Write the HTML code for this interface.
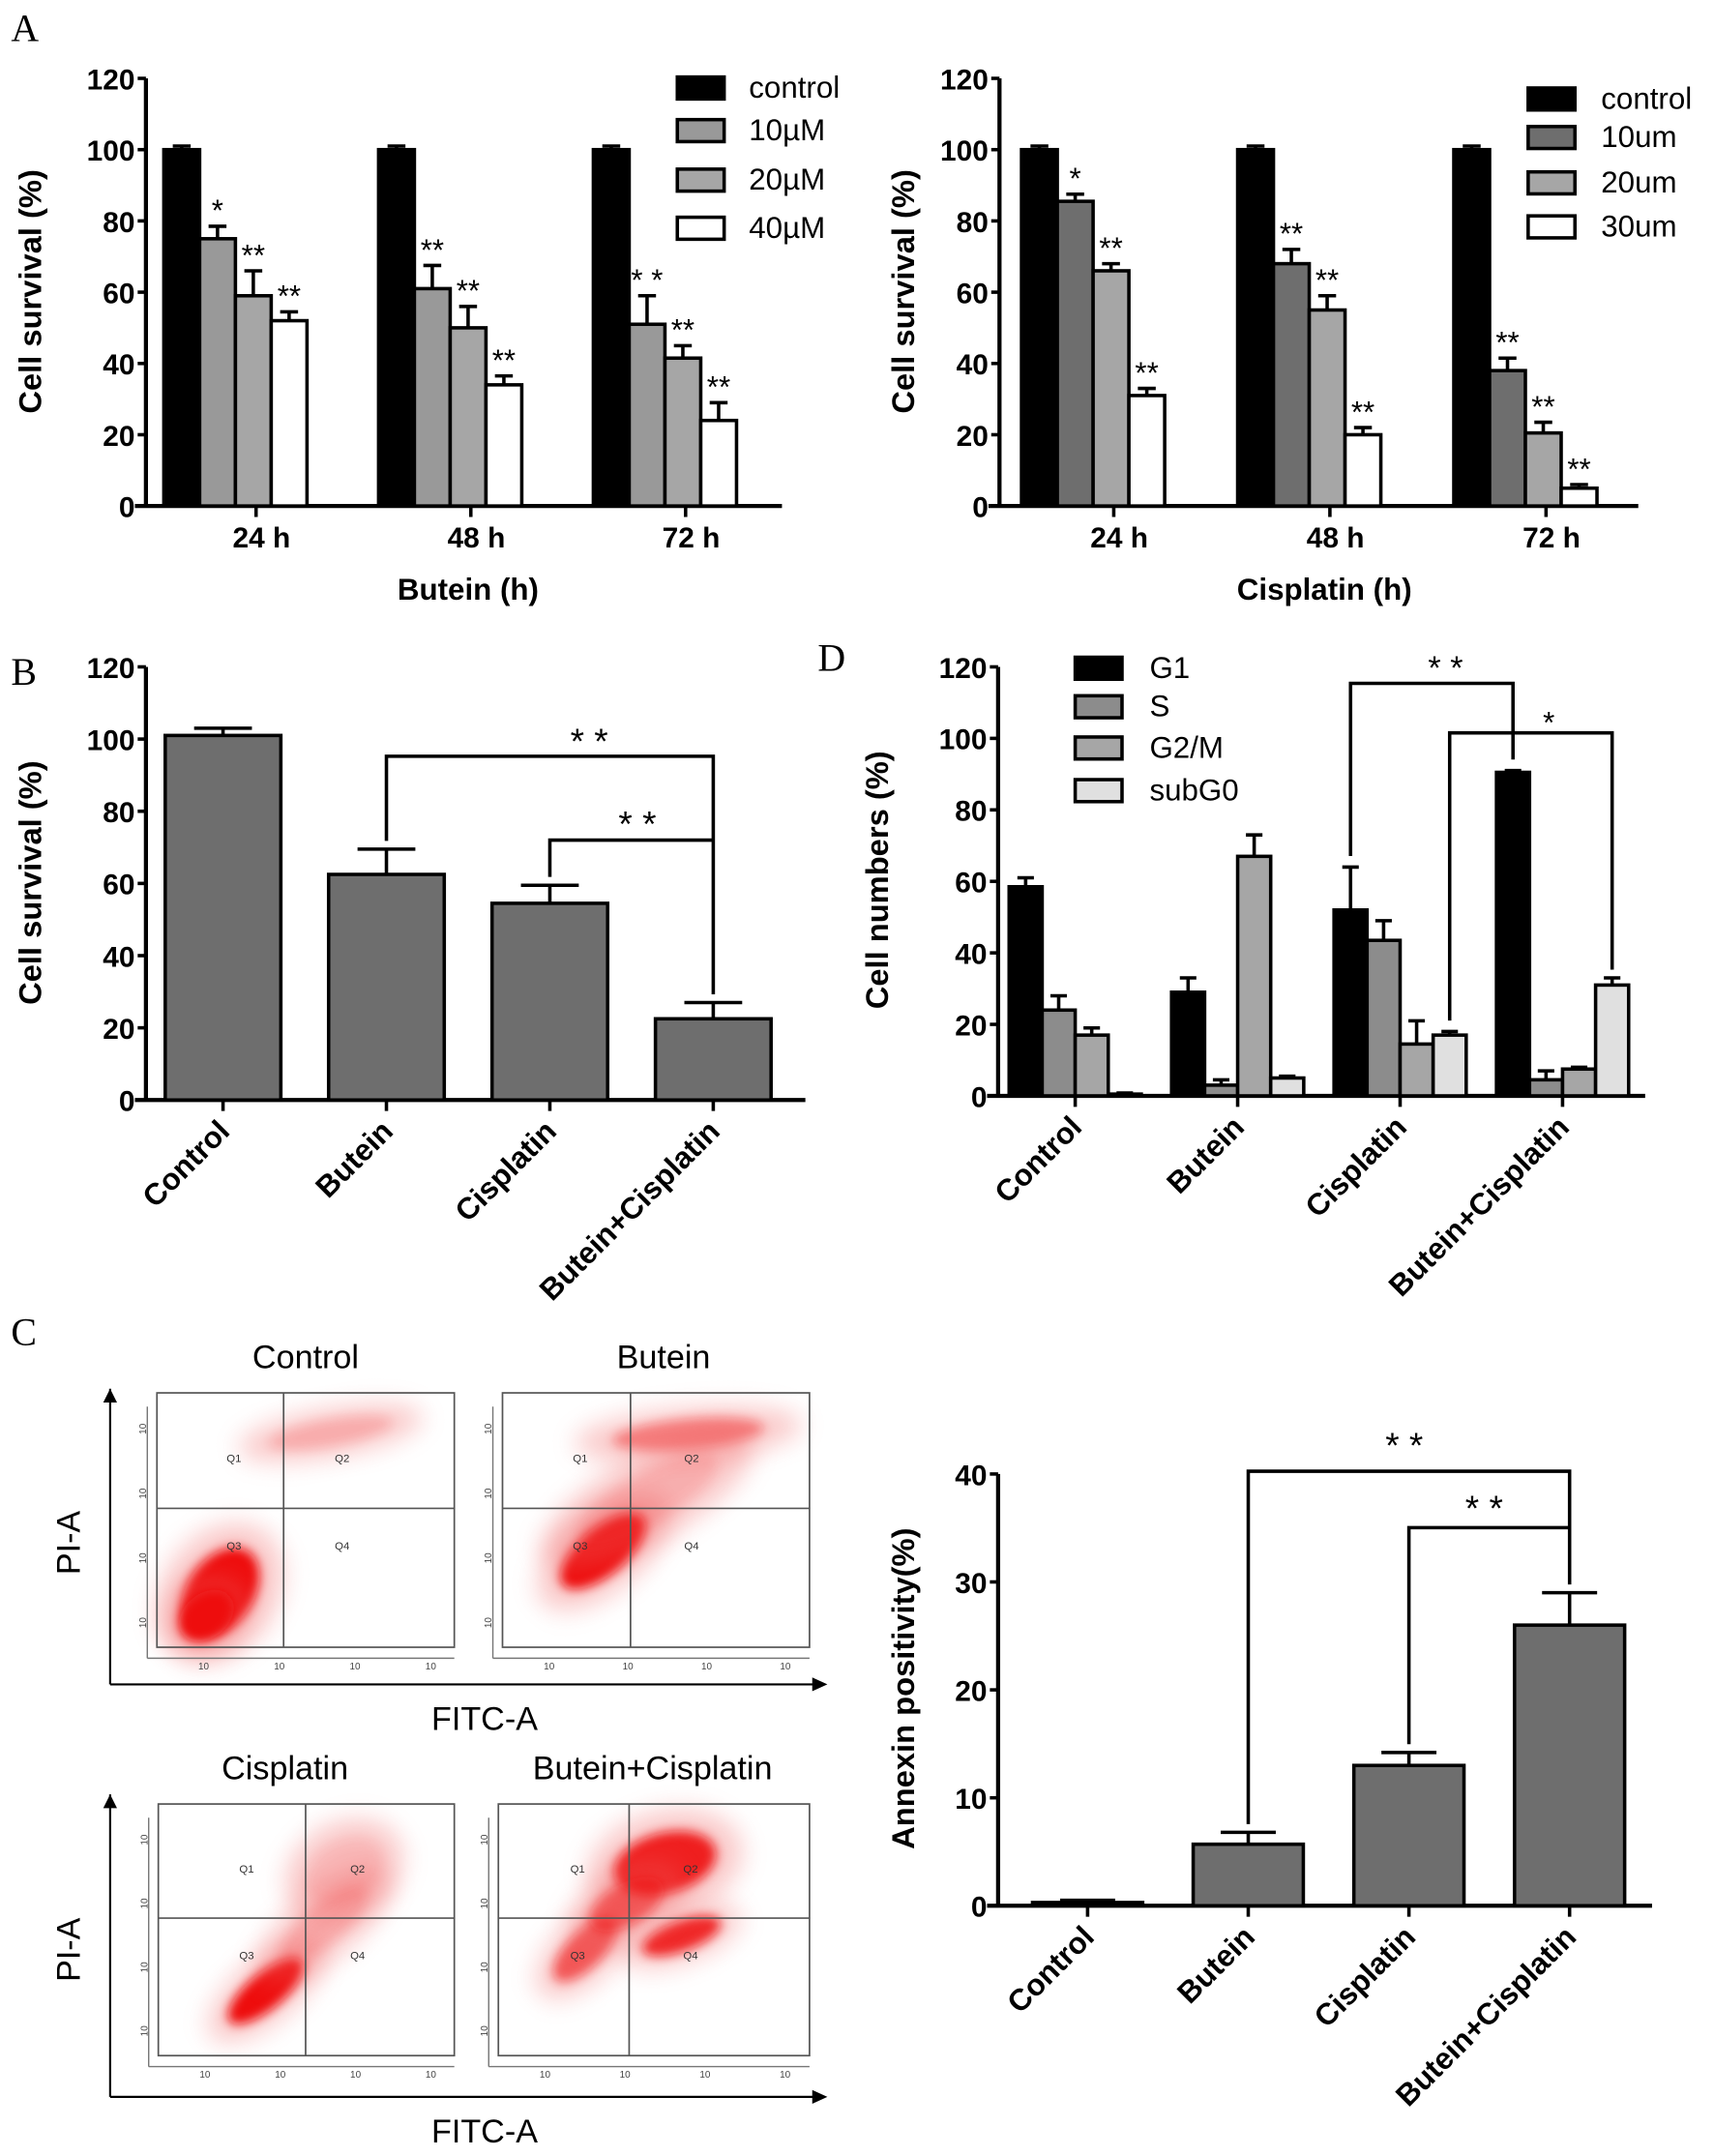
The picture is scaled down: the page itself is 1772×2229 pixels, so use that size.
<!DOCTYPE html>
<html><head><meta charset="utf-8"><style>
html,body{margin:0;padding:0;background:#fff}
svg{display:block}
text{font-family:"Liberation Sans",Arial,sans-serif}
.b{font-weight:bold}
.serif{font-family:"Liberation Serif",serif}
</style></head><body>
<svg id="fig" xmlns="http://www.w3.org/2000/svg" width="1772" height="2229" viewBox="0 0 1245 1568" preserveAspectRatio="none">
<defs>
<filter id="blur2" x="-50%" y="-50%" width="200%" height="200%"><feGaussianBlur stdDeviation="4"/></filter>
<filter id="blur6" x="-50%" y="-50%" width="200%" height="200%"><feGaussianBlur stdDeviation="9"/></filter>
</defs>
<g id="root"></g>
</svg>
<script>
// ---------- Panel A (Butein) data ----------
const A1_groups = ['24 h','48 h','72 h'];
const A1_series = ['control','10µM','20µM','40µM'];
const A1_values = [[100,100,100],[75,61,51],[59,50,41.5],[52,34,24]];
const A1_errors = [[1,1,1],[3.5,6.5,8],[7,6,3.5],[2.5,2.5,5]];
const A1_stars = [['','',''],['*','**','* *'],['**','**','**'],['**','**','**']];
// ---------- Panel A (Cisplatin) data ----------
const A2_groups = ['24 h','48 h','72 h'];
const A2_series = ['control','10um','20um','30um'];
const A2_values = [[100,100,100],[85.5,68,38],[66,55,20.5],[31,20,5]];
const A2_errors = [[1,1,1],[2,4,3.5],[2,4,3],[2,2,1]];
const A2_stars = [['','',''],['*','**','**'],['**','**','**'],['**','**','**']];
// ---------- Panel B ----------
const B_cats = ['Control','Butein','Cisplatin','Butein+Cisplatin'];
const B_values = [101,62.5,54.5,22.5];
const B_errors = [2,7,5,4.5];
// ---------- Panel D ----------
const D_cats = ['Control','Butein','Cisplatin','Butein+Cisplatin'];
const D_series = ['G1','S','G2/M','subG0'];
const D_values = [[58.5,29,52,90.5],[24,3,43.5,4.5],[17,67,14.5,7.5],[0.5,5,17,31]];
const D_errors = [[2.5,4,12,0.5],[4,1.5,5.5,2.5],[2,6,6.5,0.5],[0.3,0.5,1,2]];
// ---------- Panel C annexin ----------
const E_cats = ['Control','Butein','Cisplatin','Butein+Cisplatin'];
const E_values = [0.3,5.7,13,26];
const E_errors = [0.2,1.1,1.2,3];
const yTicks120 = [0,20,40,60,80,100,120];
const yTicks40 = [0,10,20,30,40];

const NS='http://www.w3.org/2000/svg';
const root=document.getElementById('root');
function mk(tag,attrs,parent){const e=document.createElementNS(NS,tag);for(const k in attrs)e.setAttribute(k,attrs[k]);(parent||root).appendChild(e);return e;}
function txt(s,attrs,parent){const t=mk('text',attrs,parent);t.textContent=s;return t;}

function yAxis(g,ax,y0,yTop,ticks,max,xEnd,prefix){
  const sc=v=>y0-v*(y0-yTop)/max;
  let l=mk('line',{x1:ax,y1:y0,x2:ax,y2:yTop,stroke:'#000','stroke-width':3},g);
  
  
  let xl=mk('line',{x1:ax-8,y1:y0,x2:xEnd,y2:y0,stroke:'#000','stroke-width':3},g);
  
  
  ticks.forEach(t=>{
    mk('line',{x1:ax-6,y1:sc(t),x2:ax,y2:sc(t),stroke:'#000','stroke-width':2.5},g);
    const tl=txt(String(t),{x:ax-8,y:sc(t)+8,'text-anchor':'end','font-size':21,class:'b'},g);
    
    
  });
  return sc;
}
function barErr(g,x,w,v,e,sc,fill,name){
  const r=mk('rect',{x:x,y:sc(v),width:w,height:sc(0)-sc(v),fill:fill,stroke:'#000','stroke-width':2.5},g);
  
  
  const cx=x+w/2;
  mk('line',{x1:cx,y1:sc(v),x2:cx,y2:sc(v+e),stroke:'#000','stroke-width':2.5},g);
  mk('line',{x1:cx-w/4,y1:sc(v+e),x2:cx+w/4,y2:sc(v+e),stroke:'#000','stroke-width':2.5},g);
}
function ylabel(g,s,x,y,name){
  const t=txt(s,{x:x,y:y,transform:`rotate(-90 ${x} ${y})`,'text-anchor':'middle','font-size':23,class:'b'},g);
  
  
}
function rotLabel(g,s,x,y,name){
  const t=txt(s,{x:x,y:y,transform:`rotate(-45 ${x} ${y})`,'text-anchor':'end','font-size':22,class:'b'},g);
  
  
}
function legend(g,items,colors,bx,ys,tx,fs,prefix){
  items.forEach((s,i)=>{
    const r=mk('rect',{x:bx,y:ys[i],width:34,height:16,fill:colors[i],stroke:'#000','stroke-width':2.5},g);
    
    
    const t=txt(s,{x:tx,y:ys[i]+15,'font-size':fs},g);
    
    
  });
}
function panelLetter(s,x,y){
  const t=txt(s,{x:x,y:y,'font-size':28,class:'serif'});
  
  
}

function grouped(cfg){
  const g=mk('g',{});
  
  
  const sc=yAxis(g,cfg.ax,cfg.y0,cfg.yTop,yTicks120,120,cfg.xEnd,cfg.prefix);
  cfg.groups.forEach((gn,gi)=>{
    const gs=cfg.first+gi*cfg.spacing;
    cfg.values.forEach((ser,si)=>{
      const x=gs+si*cfg.bw;
      barErr(g,x,cfg.bw,ser[gi],cfg.errors[si][gi],sc,cfg.colors[si],cfg.prefix+'-bar');
      if(cfg.stars&&cfg.stars[si][gi]){
        const st=txt(cfg.stars[si][gi],{x:x+cfg.bw/2,y:sc(ser[gi]+cfg.errors[si][gi])-4,'text-anchor':'middle','font-size':22},g);
        
        
      }
    });
    const tx=gs+cfg.tickOff;
    mk('line',{x1:tx,y1:cfg.y0,x2:tx,y2:cfg.y0+8,stroke:'#000','stroke-width':2.5},g);
    if(cfg.rot){rotLabel(g,gn,tx+6,cfg.y0+24,cfg.prefix+'-x-label');}
    else{const t=txt(gn,{x:tx+4,y:cfg.y0+30,'text-anchor':'middle','font-size':21,class:'b'},g);
      
      }
  });
  return {g,sc};
}

panelLetter('A',8,30);
const colA1=['#000','#999','#a6a6a6','#fff'];
let a1=grouped({prefix:'butein',ax:106,y0:368,yTop:57,xEnd:568,first:119,spacing:156,bw:26,tickOff:67,
  groups:A1_groups,values:A1_values,errors:A1_errors,colors:colA1,stars:A1_stars});
legend(a1.g,A1_series,colA1,492,[56,87,123,158],544,22,'butein');
ylabel(a1.g,'Cell survival (%)',30,212,'butein-y-title');
let t1=txt('Butein (h)',{x:340,y:436,'text-anchor':'middle','font-size':22,class:'b'},a1.g);



const colA2=['#000','#6e6e6e','#a6a6a6','#fff'];
let a2=grouped({prefix:'cisplatin',ax:726,y0:368,yTop:57,xEnd:1190,first:742,spacing:157,bw:26,tickOff:67,
  groups:A2_groups,values:A2_values,errors:A2_errors,colors:colA2,stars:A2_stars});
legend(a2.g,A2_series,colA2,1110,[64,92,125,157],1163,22,'cisplatin');
ylabel(a2.g,'Cell survival (%)',664,212,'cisplatin-y-title');
let t2=txt('Cisplatin (h)',{x:962,y:436,'text-anchor':'middle','font-size':22,class:'b'},a2.g);



// ---------- B ----------
panelLetter('B',8,498);
(function(){
  const g=mk('g',{});
  
  
  const sc=yAxis(g,106,800,485,yTicks120,120,585,'combo');
  const start=162,sp=118.7,w=84;
  B_cats.forEach((c,i)=>{
    const cx=start+i*sp;
    barErr(g,cx-w/2,w,B_values[i],B_errors[i],sc,'#6e6e6e','combo-bar');
    mk('line',{x1:cx,y1:800,x2:cx,y2:808,stroke:'#000','stroke-width':2.5},g);
    rotLabel(g,c,cx+6,824,'combo-x-label');
  });
  const c1=start+sp,c2=start+2*sp,c3=start+3*sp;
  const p=mk('path',{d:`M${c1},${sc(B_values[1]+B_errors[1])-6}V550H${c3}V${sc(B_values[3]+B_errors[3])-6}M${c2},${sc(B_values[2]+B_errors[2])-6}V611H${c3}`,fill:'none',stroke:'#000','stroke-width':2.5},g);
  
  
  let s1=txt('* *',{x:428,y:548,'text-anchor':'middle','font-size':26},g);
  
  
  let s2=txt('* *',{x:463,y:608,'text-anchor':'middle','font-size':26},g);
  
  
  ylabel(g,'Cell survival (%)',30,642,'combo-y-title');
})();

// ---------- D ----------
panelLetter('D',594,488);
(function(){
  const colD=['#000','#8c8c8c','#a6a6a6','#e0e0e0'];
  const r=grouped({prefix:'cellcycle',ax:725,y0:797,yTop:485,xEnd:1195,first:733,spacing:118,bw:24,tickOff:48,rot:true,
    groups:D_cats,values:D_values,errors:D_errors,colors:colD,stars:null});
  const g=r.g,sc=r.sc;
  legend(g,D_series,colD,781,[478,506,536,567],835,22,'cellcycle');
  const xG1c=733+2*118+12, xG1bc=733+3*118+12, xSubc=733+2*118+84, xSubbc=733+3*118+84;
  const p=mk('path',{d:`M${xG1c},${sc(D_values[0][2]+D_errors[0][2])-8}V497H${xG1bc}V${sc(D_values[0][3]+D_errors[0][3])-8}M${xSubc},${sc(D_values[3][2]+D_errors[3][2])-8}V533H${xSubbc}V${sc(D_values[3][3]+D_errors[3][3])-6}`,fill:'none',stroke:'#000','stroke-width':2.5},g);
  
  
  let s1=txt('* *',{x:1050,y:494,'text-anchor':'middle','font-size':24},g);
  
  
  let s2=txt('*',{x:1125,y:533,'text-anchor':'middle','font-size':22},g);
  
  
  ylabel(g,'Cell numbers (%)',645,640,'cellcycle-y-title');
})();

// ---------- C flow plots ----------
panelLetter('C',8,978);
function flowPlot(title,tx,ty,bx,by,bw,bh,cx,cy,clouds,name){
  const g=mk('g',{});
  
  
  const t=txt(title,{x:tx,y:ty,'text-anchor':'middle','font-size':24},g);
  
  
  clouds.forEach(c=>{
    mk('ellipse',{cx:c[0],cy:c[1],rx:c[2]*1.5,ry:c[3]*1.7,fill:'#f06060',opacity:0.35,transform:`rotate(${c[4]} ${c[0]} ${c[1]})`,filter:'url(#blur6)'},g);
    mk('ellipse',{cx:c[0],cy:c[1],rx:c[2],ry:c[3],fill:'#ee1010',opacity:c[5],transform:`rotate(${c[4]} ${c[0]} ${c[1]})`,filter:'url(#blur2)'},g);
  });
  mk('rect',{x:bx,y:by,width:bw,height:bh,fill:'none',stroke:'#555','stroke-width':1.2},g);
  mk('line',{x1:cx,y1:by,x2:cx,y2:by+bh,stroke:'#555','stroke-width':1.2},g);
  mk('line',{x1:bx,y1:cy,x2:bx+bw,y2:cy,stroke:'#555','stroke-width':1.2},g);
  for(let i=0;i<4;i++){
    txt('10',{x:bx+30+i*(bw-40)/3.2,y:by+bh+16,'font-size':7,fill:'#444'},g);
    txt('10',{x:bx-14,y:by+bh-20-i*(bh-30)/3.3,'font-size':7,fill:'#444',transform:`rotate(-90 ${bx-8} ${by+bh-20-i*(bh-30)/3.3})`},g);
  }
  [['Q1',bx+(cx-bx)*0.55,by+(cy-by)*0.6],['Q2',cx+(bx+bw-cx)*0.3,by+(cy-by)*0.6],['Q3',bx+(cx-bx)*0.55,cy+30],['Q4',cx+(bx+bw-cx)*0.3,cy+30]].forEach(q=>{
    txt(q[0],{x:q[1],y:q[2],'font-size':8,fill:'#333'},g);
  });
  mk('line',{x1:bx-7,y1:by+bh+8,x2:bx+bw,y2:by+bh+8,stroke:'#777','stroke-width':1},g);
  mk('line',{x1:bx-7,y1:by+10,x2:bx-7,y2:by+bh+8,stroke:'#777','stroke-width':1},g);
}
function flowAxes(yTop,yBot,ly,fy,name){
  const g=mk('g',{});
  
  
  mk('path',{d:`M80,${yBot}V${yTop}M80,${yBot}H596`,fill:'none',stroke:'#000','stroke-width':1.5},g);
  mk('path',{d:`M75,${yTop+10}L80,${yTop}L85,${yTop+10}Z M590,${yBot-5}L601,${yBot}L590,${yBot+5}Z`,fill:'#000'},g);
  const p=txt('PI-A',{x:58,y:ly,transform:`rotate(-90 58 ${ly})`,'text-anchor':'middle','font-size':24},g);
  
  
  const f=txt('FITC-A',{x:352,y:fy,'text-anchor':'middle','font-size':24},g);
  
  
}
flowAxes(1010,1225,1122,1258,'flow-axes-top');
flowAxes(1305,1525,1418,1558,'flow-axes-bottom');
flowPlot('Control',222,995,114,1013,216,185,206,1097,
  [[160,1158,36,24,-55,1],[150,1175,22,16,-40,1],[240,1042,45,10,-10,0.15]],'flow-control');
flowPlot('Butein',482,995,365,1013,223,185,458,1097,
  [[438,1128,38,17,-40,1],[500,1043,55,11,-5,0.4],[470,1090,58,18,-30,0.12]],'flow-butein');
flowPlot('Cisplatin',207,1294,115,1312,215,183,222,1395,
  [[193,1448,34,13,-40,1],[235,1400,40,14,-40,0.15],[250,1360,30,20,-30,0.08]],'flow-cisplatin');
flowPlot('Butein+Cisplatin',474,1294,362,1312,226,183,457,1395,
  [[483,1355,38,22,-15,0.9],[495,1408,30,11,-20,0.85],[425,1418,30,13,-45,0.6],[455,1385,30,15,-30,0.5]],'flow-combination');

// ---------- Annexin chart ----------
(function(){
  const g=mk('g',{});
  
  
  const sc=yAxis(g,725,1386,1072,yTicks40,40,1200,'annexin');
  const start=790,sp=116.7,w=80;
  E_cats.forEach((c,i)=>{
    const cx=start+i*sp;
    barErr(g,cx-w/2,w,E_values[i],E_errors[i],sc,'#6e6e6e','annexin-bar');
    mk('line',{x1:cx,y1:1386,x2:cx,y2:1394,stroke:'#000','stroke-width':2.5},g);
    rotLabel(g,c,cx+6,1410,'annexin-x-label');
  });
  const c1=start+sp,c2=start+2*sp,c3=start+3*sp;
  const p=mk('path',{d:`M${c1},${sc(E_values[1]+E_errors[1])-6}V1070H${c3}V${sc(E_values[3]+E_errors[3])-6}M${c2},${sc(E_values[2]+E_errors[2])-6}V1111H${c3}`,fill:'none',stroke:'#000','stroke-width':2.5},g);
  
  
  let s1=txt('* *',{x:1020,y:1060,'text-anchor':'middle','font-size':26},g);
  
  
  let s2=txt('* *',{x:1078,y:1106,'text-anchor':'middle','font-size':26},g);
  
  
  ylabel(g,'Annexin  positivity(%)',664,1228,'annexin-y-title');
})();
</script>
</body></html>
